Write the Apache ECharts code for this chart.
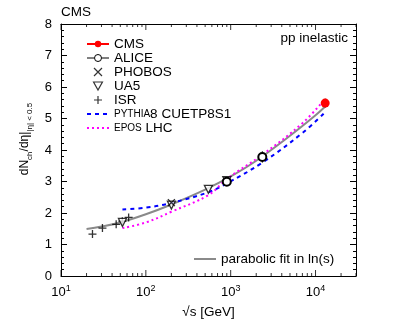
<!DOCTYPE html>
<html>
<head>
<meta charset="utf-8">
<script src="https://cdn.jsdelivr.net/npm/echarts@6/dist/echarts.min.js"></script>
<style>
  html, body { margin: 0; padding: 0; background: #fff; }
  #chart { width: 407px; height: 326px; }
</style>
</head>
<body>
<div id="chart"></div>
<script>
// values (sqrt(s) in GeV, dNch/deta)
const isrE = [23.5, 30.8, 44.7, 52.8, 62.7]
const isrN = [1.33, 1.52, 1.64, 1.74, 1.86]
const ua5E = [53, 200, 546, 900]
const ua5N = [1.70, 2.25, 2.75, 3.03]
const phobosE = [200]
const phobosN = [2.33]
const aliceE = [900, 2360]
const aliceN = [2.99, 3.78]
const aliceErr = [0.06, 0.18]
const cmsE = [13000]
const cmsN = [5.49]
const cmsErr = [0.14]

const fitE = [20, 30, 50, 100, 200, 500, 1000, 2000, 5000, 10000, 13000]
const fitN = [1.49, 1.57, 1.70, 1.96, 2.27, 2.74, 3.16, 3.66, 4.45, 5.10, 5.38]
const pythiaE = [53, 100, 200, 546, 900, 2360, 7000, 13000]
const pythiaN = [2.11, 2.17, 2.32, 2.66, 2.94, 3.60, 4.54, 5.20]
const eposE = [53, 100, 200, 546, 900, 2360, 7000, 13000]
const eposN = [1.52, 1.70, 2.04, 2.57, 3.08, 3.85, 4.85, 5.63]

// tick positions on the energy axis
const xMajor = [10, 100, 1000, 10000]
const xMinor = [20, 30, 40, 50, 60, 70, 80, 90,
  200, 300, 400, 500, 600, 700, 800, 900,
  2000, 3000, 4000, 5000, 6000, 7000, 8000, 9000, 20000, 30000]

const X_MIN = 10
const X_MAX = 30000
const Y_MIN = 0
const Y_MAX = 8
const FONT = 'Liberation Sans'
const zip = (xs, ys) => xs.map((x, i) => [x, ys[i]])
// error bars as short vertical segments, broken apart by '-' gaps
const errSegs = (xs, ys, es) => xs.flatMap((x, i) => [[x, ys[i] - es[i]], [x, ys[i] + es[i]], [x, '-']])

const PLUS = 'path://M0,5L10,5M5,0L5,10'
const CROSS = 'path://M0,0L10,10M10,0L0,10'
const DOWN_TRI = 'path://M0,0L10,0L5,9Z'
const LINE_CIRCLE = 'path://M0,4L7,4M15,4L22,4M14.5,4A3.5,3.5,0,1,1,7.5,4A3.5,3.5,0,1,1,14.5,4'

const chart = echarts.init(document.getElementById('chart'), null, { renderer: 'canvas' })

const yBase = {
  type: 'value',
  min: Y_MIN,
  max: Y_MAX,
  interval: 1,
  splitLine: { show: false },
  axisLine: { show: true, onZero: false, lineStyle: { color: '#000', width: 1 } },
  axisTick: { show: true, inside: true, length: 6, lineStyle: { color: '#000' } },
  minorTick: { show: true, splitNumber: 5, length: 3, lineStyle: { color: '#000' } },
}

const lineOnly = { itemStyle: { opacity: 0 } }

// tick marks on the log axis, one scatter series per edge and size
const tickSeries = (list, yVal, len, up) => ({
  type: 'scatter',
  data: list.map(v => [v, yVal]),
  symbol: 'rect',
  symbolSize: [1, len],
  symbolOffset: [0, up ? -len / 2 : len / 2],
  itemStyle: { color: '#000' },
  silent: true,
  clip: false,
  z: 1,
})

const option = {
  animation: false,
  backgroundColor: '#fff',
  textStyle: { fontFamily: FONT },
  title: [
    { text: 'CMS', left: 61, top: 5, padding: 0,
      textStyle: { fontSize: 13.5, fontWeight: 'normal', color: '#000', fontFamily: FONT } },
    { text: 'pp inelastic', right: 59, top: 31, padding: 0,
      textStyle: { fontSize: 13.5, fontWeight: 'normal', color: '#000', fontFamily: FONT } },
  ],
  grid: { left: 61, right: 51, top: 24, bottom: 50, containLabel: false },
  legend: [
    {
      orient: 'vertical',
      left: 86,
      top: 37,
      padding: 0,
      itemGap: 0,
      itemWidth: 22,
      itemHeight: 8,
      selectedMode: false,
      textStyle: {
        fontSize: 13.5, fontFamily: FONT, color: '#000', lineHeight: 14,
        rich: {
          sc: { fontSize: 10, fontFamily: FONT, color: '#000' },
          n: { fontSize: 13.5, fontFamily: FONT, color: '#000' },
        },
      },
      formatter: (name) => {
        if (name === 'PYTHIA8 CUETP8S1') return '{sc|PYTHIA}{n|8 CUETP8S1}'
        if (name === 'EPOS LHC') return '{sc|EPOS}{n| LHC}'
        return name
      },
      data: [
        'CMS',
        { name: 'ALICE', icon: LINE_CIRCLE, itemStyle: { color: '#fff', borderColor: '#000', borderWidth: 1 } },
        { name: 'PHOBOS', icon: CROSS, itemStyle: { color: 'none', borderColor: '#000', borderWidth: 1.2 } },
        { name: 'UA5', icon: DOWN_TRI, itemStyle: { color: '#fff', borderColor: '#000', borderWidth: 1.2 } },
        { name: 'ISR', icon: PLUS, itemStyle: { color: 'none', borderColor: '#000', borderWidth: 1.2 } },
        Object.assign({ name: 'PYTHIA8 CUETP8S1' }, lineOnly),
        Object.assign({ name: 'EPOS LHC' }, lineOnly),
      ],
    },
    {
      left: 193,
      top: 252,
      padding: 0,
      itemWidth: 22,
      itemHeight: 10,
      selectedMode: false,
      textStyle: { fontSize: 13.5, fontFamily: FONT, color: '#000' },
      data: [Object.assign({ name: 'parabolic fit in ln(s)' }, lineOnly)],
    },
  ],
  xAxis: [
    // the data axis: log scale, frame line and labels
    {
      type: 'log',
      logBase: 10,
      min: X_MIN,
      max: X_MAX,
      position: 'bottom',
      splitLine: { show: false },
      name: '√s [GeV]',
      nameLocation: 'middle',
      nameGap: 29,
      nameTextStyle: { fontSize: 13.5, color: '#000', fontFamily: FONT },
      axisLine: { show: true, onZero: false, lineStyle: { color: '#000', width: 1 } },
      axisTick: { show: false },
      axisLabel: {
        show: true,
        margin: 8,
        customValues: xMajor,
        formatter: (v) => '{b|10}{s|' + Math.round(Math.log10(v)) + '}',
        rich: {
          b: { fontSize: 13, fontFamily: FONT, color: '#000', lineHeight: 16 },
          s: { fontSize: 9, fontFamily: FONT, color: '#000', verticalAlign: 'top', lineHeight: 10 },
        },
      },
    },
    {
      type: 'log',
      logBase: 10,
      min: X_MIN,
      max: X_MAX,
      position: 'top',
      splitLine: { show: false },
      axisLine: { show: true, onZero: false, lineStyle: { color: '#000', width: 1 } },
      axisTick: { show: false },
      axisLabel: { show: false },
    },
  ],
  yAxis: [
    Object.assign({}, yBase, {
      position: 'left',
      name: 'dN{sub|ch}/dη|{sub||η| < 0.5}',
      nameLocation: 'middle',
      nameGap: 22,
      nameTextStyle: {
        fontSize: 12, color: '#000', fontFamily: FONT, lineHeight: 18,
        padding: [0, 0, 0, 22],
        rich: {
          sub: { fontSize: 8, fontFamily: FONT, color: '#000', verticalAlign: 'bottom', lineHeight: 11 },
        },
      },
      axisLabel: { show: true, margin: 9, fontSize: 13, color: '#000', fontFamily: FONT },
    }),
    Object.assign({}, yBase, {
      position: 'right',
      axisLabel: { show: false },
    }),
  ],
  series: [
    tickSeries(xMajor, Y_MIN, 6, true),
    tickSeries(xMinor, Y_MIN, 3, true),
    tickSeries(xMajor, Y_MAX, 6, false),
    tickSeries(xMinor, Y_MAX, 3, false),
    {
      name: 'parabolic fit in ln(s)',
      type: 'line',
      data: zip(fitE, fitN),
      smooth: 0.4,
      symbol: 'none',
      lineStyle: { color: '#8a8a8a', width: 2 },
      itemStyle: { color: '#8a8a8a' },
      z: 2,
    },
    {
      name: 'PYTHIA8 CUETP8S1',
      type: 'line',
      data: zip(pythiaE, pythiaN),
      smooth: 0.4,
      symbol: 'none',
      lineStyle: { color: '#0000ff', width: 2, type: [4, 4] },
      itemStyle: { color: '#0000ff' },
      z: 3,
    },
    {
      name: 'EPOS LHC',
      type: 'line',
      data: zip(eposE, eposN),
      smooth: 0.4,
      symbol: 'none',
      lineStyle: { color: '#ff00ff', width: 2, type: [2, 3] },
      itemStyle: { color: '#ff00ff' },
      z: 3,
    },
    {
      name: 'errors',
      type: 'line',
      data: errSegs(aliceE, aliceN, aliceErr).concat(errSegs(cmsE, cmsN, cmsErr)),
      symbol: 'none',
      connectNulls: false,
      lineStyle: { color: '#000', width: 1 },
      z: 4,
    },
    {
      name: 'ISR',
      type: 'scatter',
      data: zip(isrE, isrN),
      symbol: PLUS,
      symbolSize: 8,
      itemStyle: { color: 'none', borderColor: '#000', borderWidth: 1.3 },
      z: 5,
    },
    {
      name: 'UA5',
      type: 'scatter',
      data: zip(ua5E, ua5N),
      symbol: DOWN_TRI,
      symbolSize: 8,
      itemStyle: { color: '#fff', borderColor: '#000', borderWidth: 1.3 },
      z: 5,
    },
    {
      name: 'PHOBOS',
      type: 'scatter',
      data: zip(phobosE, phobosN),
      symbol: CROSS,
      symbolSize: 7,
      itemStyle: { color: 'none', borderColor: '#000', borderWidth: 1.3 },
      z: 5,
    },
    {
      name: 'ALICE',
      type: 'line',
      data: zip(aliceE, aliceN),
      symbol: 'emptyCircle',
      symbolSize: 8,
      showSymbol: true,
      lineStyle: { opacity: 0, color: '#000', width: 1 },
      itemStyle: { color: '#000', borderColor: '#000', borderWidth: 1 },
      z: 6,
    },
    {
      name: 'CMS',
      type: 'line',
      data: zip(cmsE, cmsN),
      symbol: 'circle',
      symbolSize: 9,
      lineStyle: { color: '#ff0000', width: 1 },
      itemStyle: { color: '#ff0000' },
      z: 7,
    },
  ],
}

chart.setOption(option)
</script>
</body>
</html>
